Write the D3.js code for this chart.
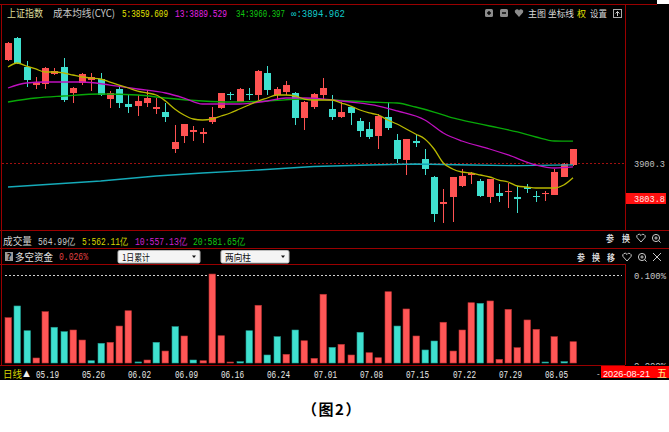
<!DOCTYPE html>
<html>
<head>
<meta charset="utf-8">
<script src="https://cdn.jsdelivr.net/npm/d3@7"></script>
<style>
  body { margin: 0; background: #fff; }
  text { font-family: "Noto Sans CJK SC", "DejaVu Sans", sans-serif; }
  .num { font-family: "Liberation Mono", "DejaVu Sans Mono", monospace; }
  .sans { font-family: "Liberation Sans", "DejaVu Sans", sans-serif; }
</style>
</head>
<body>
<script>
// daily candles, 62 sessions (05.14 .. 08.10)
var opens = [4184.3,4244.9,4165.0,4115.3,4118.1,4145.7,4165.0,4093.3,4120.9,4129.1,
             4131.9,4076.7,4104.3,4063.0,4057.4,4065.7,4049.2,4040.9,3938.9,3974.7,
             3985.8,3980.3,4013.3,4051.9,4090.5,4068.5,4090.5,4087.8,4148.4,4087.8,
             4096.0,4093.3,4024.4,4054.7,4087.8,4049.2,4027.1,4054.7,4016.1,3994.0,
             3974.7,4027.1,3963.7,3908.6,3961.0,3911.3,3861.7,3787.3,3806.6,3836.9,
             3867.2,3850.7,3806.6,3817.6,3820.3,3806.6,3834.1,3809.3,3814.8,3812.1,
             3861.7,3894.8];
var highs = [4233.9,4247.7,4181.5,4137.4,4165.0,4162.2,4189.8,4109.8,4148.4,4148.4,
             4148.4,4098.8,4109.8,4087.8,4087.8,4101.6,4079.5,4065.7,4005.1,4007.8,
             4002.3,3996.8,4054.7,4093.3,4096.0,4107.1,4107.1,4156.7,4167.7,4109.8,
             4126.4,4096.0,4071.2,4093.3,4134.6,4087.8,4068.5,4057.4,4024.4,4013.3,
             4035.4,4068.5,3980.3,3966.5,3977.5,3938.9,3864.5,3828.6,3861.7,3883.8,
             3875.5,3856.2,3856.2,3842.4,3845.2,3836.9,3842.4,3823.1,3823.1,3883.8,
             3900.3,3938.9];
var lows  = [4181.5,4173.2,4109.8,4104.3,4104.3,4142.9,4068.5,4065.7,4115.3,4098.8,
             4085.0,4051.9,4051.9,4038.2,4029.9,4054.7,4035.4,4013.3,3927.9,3955.4,
             3961.0,3955.4,4007.8,4049.2,4074.0,4068.5,4074.0,4074.0,4087.8,4074.0,
             4087.8,4005.1,3991.3,4049.2,4074.0,4018.9,4024.4,4005.1,3972.0,3966.5,
             3938.9,3991.3,3900.3,3867.2,3944.4,3867.2,3737.6,3734.9,3737.6,3834.1,
             3842.4,3806.6,3790.0,3792.8,3776.2,3762.4,3817.6,3792.8,3795.5,3812.1,
             3861.7,3892.0];
var closes = [4231.1,4176.0,4129.1,4123.6,4162.2,4153.9,4074.0,4107.1,4145.7,4137.4,
              4087.8,4093.3,4065.7,4054.7,4071.2,4079.5,4054.7,4027.1,3958.2,4007.8,
              3991.3,3985.8,4027.1,4093.3,4087.8,4104.3,4087.8,4153.9,4101.6,4104.3,
              4115.3,4024.4,4068.5,4090.5,4107.1,4027.1,4040.9,4038.2,3988.5,3972.0,
              4029.9,3996.8,3911.3,3966.5,3955.4,3883.8,3759.7,3792.8,3861.7,3864.5,
              3872.7,3809.3,3856.2,3809.3,3823.1,3801.0,3828.6,3806.6,3817.6,3875.5,
              3897.5,3938.9];

// moving averages
var ma5 = [4165.0,4176.0,4167.7,4159.5,4151.2,4151.2,4148.4,4142.9,4137.4,4134.6,
           4131.9,4123.6,4115.3,4107.1,4098.8,4093.3,4087.8,4071.2,4049.2,4032.6,
           4021.6,4018.9,4021.6,4029.9,4038.2,4049.2,4060.2,4071.2,4079.5,4087.8,
           4087.8,4085.0,4076.7,4074.0,4074.0,4074.0,4065.7,4057.4,4046.4,4038.2,
           4032.6,4018.9,4007.8,3994.0,3980.3,3966.5,3938.9,3900.3,3883.8,3875.5,
           3872.7,3867.2,3861.7,3853.4,3847.9,3836.9,3834.1,3831.4,3831.4,3831.4,
           3839.6,3859.6];
var ma13Idx = [0,2,4,8,11,14,17,19,21,25,28,30,32,35,37,40,42,45,47,49,52,54,57,59,61];
var ma13Val = [4107.1,4120.9,4123.6,4123.6,4115.3,4104.3,4093.3,4079.5,4063.0,4063.0,
               4071.2,4079.5,4079.5,4074.0,4068.5,4057.4,4043.7,4018.9,3983.0,3961.0,
               3938.9,3922.4,3894.8,3886.5,3889.5];
var ma34Idx = [0,3,6,10,14,17,21,24,28,32,35,39,42,44,46,48,50,52,55,57,59,61];
var ma34Val = [4068.5,4079.5,4085.0,4090.5,4087.8,4079.5,4071.2,4068.5,4071.2,4076.7,
               4074.0,4068.5,4065.7,4054.7,4040.9,4024.4,4013.3,4002.3,3985.8,3972.0,
               3961.0,3960.4];
var cycIdx = [0,5,10,16,21,27,33,39,44,50,55,61];
var cycVal = [3834.1,3842.4,3850.7,3864.5,3872.7,3881.0,3890.7,3894.8,3897.5,3894.8,
              3893.0,3895.0];

// 多空资金 (%), negative = cyan
var flow = [0.0515,-0.0648,-0.0367,0.0057,0.0583,-0.0406,-0.0356,0.0375,0.0261,-0.0026,
            -0.0224,0.0235,0.0420,0.0594,-0.0012,0.0034,-0.0235,0.0136,-0.0413,0.0307,
            -0.0034,0.0026,0.1011,0.0310,0.0010,-0.0015,-0.0367,0.0656,-0.0091,-0.0299,
            0.0099,-0.0375,0.0253,0.0053,0.0781,-0.0178,0.0212,0.0091,-0.0349,0.0117,
            0.0060,0.0810,-0.0420,0.0614,0.0307,-0.0148,-0.0250,0.0463,0.0136,0.0375,
            0.0685,-0.0678,0.0705,0.0042,0.0610,0.0174,0.0489,0.0383,-0.0008,0.0299,
            -0.0015,0.0242];

var dateLabels = ["05.19","05.26","06.02","06.09","06.16","06.24","07.01","07.08","07.15","07.22","07.29","08.05"];
var dateIdx = [3,8,13,18,23,28,33,38,43,48,53,58];

var W = 669, H = 432;
var RED = "#ff5252", CYAN = "#3fe0cf", BORDER = "#9a0000";

var svg = d3.select("body").append("svg").attr("width", W).attr("height", H);
svg.append("rect").attr("width", W).attr("height", 380).attr("fill", "#000");
svg.append("rect").attr("x", 657).attr("width", 12).attr("height", 4).attr("fill", "#fff");

var x = d3.scaleLinear().domain([0, 61]).range([8, 573]);
var y = d3.scaleLinear().domain([3803.8, 3900.3]).range([198, 163]);
var yf = d3.scaleLinear().domain([0, 0.1]).range([363, 275]);

function label(s, px, py, fill, size, w, cls) {
  var t = svg.append("text").attr("x", px).attr("y", py).attr("fill", fill)
    .style("font-size", size + "px").text(s);
  if (cls) t.attr("class", cls);
  if (w) t.attr("textLength", w).attr("lengthAdjust", "spacingAndGlyphs");
  return t;
}

// frame lines
function hline(y0, x0, x1) {
  svg.append("line").attr("x1", x0).attr("x2", x1).attr("y1", y0).attr("y2", y0)
    .attr("stroke", BORDER).attr("stroke-width", 1);
}
function vline(x0, y0, y1) {
  svg.append("line").attr("x1", x0).attr("x2", x0).attr("y1", y0).attr("y2", y1)
    .attr("stroke", BORDER).attr("stroke-width", 1);
}
hline(4.5, 0, 657);
hline(230.5, 0, W);
hline(248.5, 0, W);
hline(264.5, 0, 625);
hline(365.5, 0, 625);
vline(1.5, 4, 365);
vline(625.5, 4, 230);
vline(625.5, 264, 365);

// price reference dotted line
svg.append("line").attr("x1", 2).attr("x2", 625).attr("y1", y(3900.3) + 0.5).attr("y2", y(3900.3) + 0.5)
  .attr("stroke", "#a01010").attr("stroke-dasharray", "2,2");

// main chart
var main = svg.append("g");
var idx = d3.range(opens.length);
main.selectAll("line.wick").data(idx).enter().append("line")
  .attr("x1", function (i) { return Math.round(x(i)) + 0.5; })
  .attr("x2", function (i) { return Math.round(x(i)) + 0.5; })
  .attr("y1", function (i) { return y(highs[i]); })
  .attr("y2", function (i) { return y(lows[i]); })
  .attr("stroke", function (i) { return closes[i] >= opens[i] ? RED : CYAN; });
main.selectAll("rect.body").data(idx).enter().append("rect")
  .attr("x", function (i) { return Math.round(x(i)) - 3; })
  .attr("width", 7)
  .attr("y", function (i) { return y(Math.max(opens[i], closes[i])); })
  .attr("height", function (i) { return Math.max(1, Math.abs(y(opens[i]) - y(closes[i]))); })
  .attr("fill", function (i) { return closes[i] >= opens[i] ? RED : CYAN; });

function maLine(ix, vals, color, curve) {
  var line = d3.line().x(function (d) { return x(d[0]); }).y(function (d) { return y(d[1]); })
    .curve(curve || d3.curveMonotoneX);
  main.append("path").datum(ix.map(function (v, k) { return [v, vals[k]]; }))
    .attr("d", line).attr("fill", "none").attr("stroke", color).attr("stroke-width", 1.3);
}
maLine(cycIdx, cycVal, "#15aab8", d3.curveLinear);
maLine(ma34Idx, ma34Val, "#08a808");
maLine(ma13Idx, ma13Val, "#c010c0");
maLine(idx, ma5, "#b8b800");

// header of main chart
label("上证指数", 7, 17, "#dcdc9a", 10, 36);
label("成本均线(CYC)", 53, 17, "#c8c8c8", 10, 62);
label("5:3859.609", 122, 17, "#e0e000", 10, 46, "num");
label("13:3889.529", 175, 17, "#e020e0", 10, 52, "num");
label("34:3960.397", 236, 17, "#10c810", 10, 49, "num");
label("∞:3894.962", 291, 17, "#10c8c8", 10, 54, "num");

// top-right tools
function iconBox(px, sym) {
  svg.append("rect").attr("x", px).attr("y", 9).attr("width", 8).attr("height", 8).attr("rx", 1.5).attr("fill", "#8c8c8c");
  svg.append("line").attr("x1", px + 2).attr("x2", px + 6).attr("y1", 13).attr("y2", 13).attr("stroke", "#000").attr("stroke-width", 1.4);
  if (sym === "+") svg.append("line").attr("x1", px + 4).attr("x2", px + 4).attr("y1", 11).attr("y2", 15).attr("stroke", "#000").attr("stroke-width", 1.4);
}
iconBox(485, "+");
iconBox(500, "-");
svg.append("path").attr("d", "M519,17 L515,12.5 A2.2,2.2 0 0 1 519,10.5 A2.2,2.2 0 0 1 523,12.5 Z").attr("fill", "#8c8c8c");
label("主图", 528, 17, "#d8d8d8", 9, 18);
label("坐标线", 548, 17, "#d8d8d8", 9, 26);
label("权", 577, 17, "#e0e000", 9, 9);
label("设置", 590, 17, "#d8d8d8", 9, 17);
svg.append("rect").attr("x", 613.5).attr("y", 9.5).attr("width", 8).attr("height", 8).attr("fill", "none").attr("stroke", "#aaa");
svg.append("path").attr("d", "M617.5,11.5 L617.5,16 M615.5,13.5 L617.5,11.5 L619.5,13.5").attr("fill", "none").attr("stroke", "#ccc");

// right axis
label("3900.3", 634, 167, "#c0c0c0", 9, 31, "num");
svg.append("rect").attr("x", 626).attr("y", 193).attr("width", 40).attr("height", 11).attr("fill", "#ff1010");
label("3803.8", 634, 202, "#ffe8e8", 9, 31, "num");

// volume header row
label("成交量", 3, 245, "#d0d0d0", 10, 29);
label("564.99亿", 38, 245, "#c8c8c8", 10, 37, "num");
label("5:562.11亿", 82, 245, "#d8d800", 10, 46, "num");
label("10:557.13亿", 135, 245, "#d020d0", 10, 52, "num");
label("20:581.65亿", 193, 245, "#10c810", 10, 52, "num");

function rowIcons(items, py) {
  items.forEach(function (it) {
    if (it[0] === "heart") {
      svg.append("path").attr("d", "M" + (it[1] + 4) + "," + (py) + " L" + it[1] + "," + (py - 4.5) +
        " A2.2,2.2 0 0 1 " + (it[1] + 4) + "," + (py - 6.5) + " A2.2,2.2 0 0 1 " + (it[1] + 8) + "," + (py - 4.5) + " Z")
        .attr("fill", "none").attr("stroke", "#c8c8c8");
    } else if (it[0] === "zoom") {
      svg.append("circle").attr("cx", it[1] + 4).attr("cy", py - 4).attr("r", 3.6).attr("fill", "none").attr("stroke", "#c8c8c8");
      svg.append("path").attr("d", "M" + (it[1] + 2.3) + "," + (py - 4) + " h3.4 M" + (it[1] + 4) + "," + (py - 5.7) + " v3.4 M" + (it[1] + 6.6) + "," + (py - 1.4) + " l2,2")
        .attr("fill", "none").attr("stroke", "#c8c8c8");
    } else if (it[0] === "x") {
      svg.append("path").attr("d", "M" + it[1] + "," + (py - 8) + " l8,8 M" + (it[1] + 8) + "," + (py - 8) + " l-8,8")
        .attr("fill", "none").attr("stroke", "#c8c8c8");
    } else {
      label(it[0], it[1], py, "#d8d8d8", 9, 8).style("font-weight", "bold");
    }
  });
}
rowIcons([["参", 606], ["换", 622], ["heart", 637], ["zoom", 652]], 242);
rowIcons([["参", 577], ["换", 592], ["移", 607], ["heart", 623], ["zoom", 638], ["x", 653]], 261);

// 多空资金 header row
svg.append("rect").attr("x", 5).attr("y", 252).attr("width", 8).attr("height", 9).attr("fill", "#9a9a9a");
label("?", 6.5, 260, "#000", 9, 5).style("font-weight", "bold");
label("多空资金", 15, 261, "#e0e0e0", 10, 38);
label("0.026%", 59, 260, "#e04040", 10, 29, "num");
function dropdown(x0, x1, s, w) {
  svg.append("rect").attr("x", x0).attr("y", 250.5).attr("width", x1 - x0).attr("height", 12.5).attr("rx", 1.5)
    .attr("fill", "#f4f4f4").attr("stroke", "#bbb");
  label(s, x0 + 4, 260.5, "#111", 9.5, w);
  svg.append("path").attr("d", "M" + (x1 - 8) + ",255.5 h4 l-2,2.5 z").attr("fill", "#111");
}
dropdown(118, 200, "1日累计", 28);
dropdown(221, 289, "两向柱", 26);

// sub panel
svg.append("line").attr("x1", 5).attr("x2", 622).attr("y1", yf(0.1) + 0.5).attr("y2", yf(0.1) + 0.5)
  .attr("stroke", "#d0d0d0").attr("stroke-dasharray", "2,2");
svg.selectAll("rect.flow").data(idx).enter().append("rect")
  .attr("x", function (i) { return Math.round(x(i)) - 3; })
  .attr("width", 6.5)
  .attr("y", function (i) { return Math.min(yf(Math.abs(flow[i])), yf(0) - 1); })
  .attr("height", function (i) { return Math.max(1, yf(0) - yf(Math.abs(flow[i]))); })
  .attr("fill", function (i) { return flow[i] >= 0 ? "#ff5656" : CYAN; })
  .attr("stroke", function (i) { return flow[i] >= 0 ? "#b83030" : "#1f9a90"; })
  .attr("stroke-width", 0.6);
label("0.100%", 634, 279, "#c8c8c8", 9, 32, "num");
svg.append("clipPath").attr("id", "cutz").append("rect").attr("x", 626).attr("y", 300).attr("width", 43).attr("height", 65);
label("0.000%", 634, 369, "#c8c8c8", 9, 32, "num").attr("clip-path", "url(#cutz)");

// date strip
label("日线", 3, 378, "#d8d800", 10, 19);
label("▲", 23, 377, "#f0f0f0", 8, 7);
dateIdx.forEach(function (d, k) {
  label(dateLabels[k], Math.round(x(d)), 378, "#e8e8e8", 10, 23, "num");
});
label("-", 597, 376, "#e8e8e8", 8, null, "sans");
svg.append("rect").attr("x", 601).attr("y", 366).attr("width", 68).attr("height", 12).attr("fill", "#ff0000");
label("2026-08-21", 603, 376.5, "#fff2f2", 9.2, null, "sans");
label("五", 657, 376.5, "#ffee88", 10);

// caption
label("（图2）", 332, 415, "#000", 15).attr("text-anchor", "middle")
  .style("font-weight", "bold").style("letter-spacing", "1.5px");
</script>
</body>
</html>
